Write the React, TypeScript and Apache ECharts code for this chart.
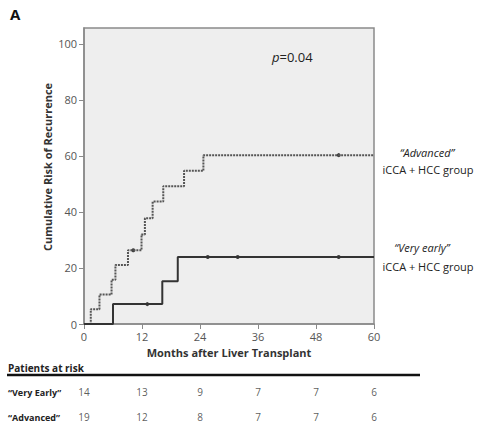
import React, { useEffect, useRef } from "react";
import * as echarts from "echarts";

// Kaplan-Meier cumulative risk (step points: time in months, risk in %)
const advancedTimes = [0, 1.4, 3.2, 5.7, 6.5, 9.1, 11.9, 12.6, 14.2, 16.4, 20.7, 24.7, 60];
const advancedRisk = [0, 5.3, 10.5, 15.8, 21.1, 26.3, 32.0, 37.8, 43.7, 49.2, 54.7, 60.3, 60.3];
const advancedCensorTimes = [10.2, 52.7];
const advancedCensorRisk = [26.3, 60.3];

const veryEarlyTimes = [0, 6.0, 16.2, 19.4, 60];
const veryEarlyRisk = [0, 7.1, 15.3, 23.9, 23.9];
const veryEarlyCensorTimes = [13.1, 25.6, 31.8, 52.7];
const veryEarlyCensorRisk = [7.1, 23.9, 23.9, 23.9];

const xTicks = [0, 12, 24, 36, 48, 60];
const yTicks = [0, 20, 40, 60, 80, 100];

const riskTimes = [0, 12, 24, 36, 48, 60];
const riskVeryEarly = [14, 13, 9, 7, 7, 6];
const riskAdvanced = [19, 12, 8, 7, 7, 6];
const riskRows = ["\u201CVery Early\u201D", "\u201CAdvanced\u201D"];

const FONT = "'Open Sans', 'Liberation Sans', sans-serif";

export default function App() {
  const ref = useRef<HTMLDivElement>(null);
  useEffect(() => {
    if (!ref.current) return;
    const chart = echarts.init(ref.current, null, { renderer: "svg" });
    const zip = (a: number[], b: number[]) => a.map((v, i) => [v, b[i]]);
    const riskData = [
      ...riskTimes.map((t, i) => [t, riskRows[0], riskVeryEarly[i]]),
      ...riskTimes.map((t, i) => [t, riskRows[1], riskAdvanced[i]]),
    ];
    chart.setOption({
      animation: false,
      backgroundColor: "#ffffff",
      textStyle: { fontFamily: FONT },
      grid: [
        {
          left: 84,
          top: 28,
          right: 108,
          bottom: 106,
          show: true,
          backgroundColor: "#eeeeee",
          borderColor: "#8a8a8a",
          borderWidth: 1.5,
        },
        { left: 84, right: 108, top: 379, height: 51 },
      ],
      xAxis: [
        {
          type: "value",
          gridIndex: 0,
          min: 0,
          max: 60,
          interval: 12,
          splitLine: { show: false },
          axisLine: { show: true, lineStyle: { color: "#8a8a8a", width: 1.5 } },
          axisTick: { show: true, length: 5, lineStyle: { color: "#8a8a8a" }, customValues: xTicks },
          axisLabel: { color: "#555", fontSize: 11, margin: 7, customValues: xTicks },
          name: "Months after Liver Transplant",
          nameLocation: "middle",
          nameGap: 23,
          nameTextStyle: { color: "#333", fontSize: 11, fontWeight: "bold", fontFamily: FONT },
        },
        { type: "value", gridIndex: 1, min: 0, max: 60, show: false },
      ],
      yAxis: [
        {
          type: "value",
          gridIndex: 0,
          min: 0,
          max: 105.7,
          splitLine: { show: false },
          axisLine: { show: true, lineStyle: { color: "#8a8a8a", width: 1.5 } },
          axisTick: { show: true, length: 5, lineStyle: { color: "#8a8a8a" }, customValues: yTicks },
          axisLabel: { color: "#555", fontSize: 11, margin: 7, customValues: yTicks },
        },
        {
          type: "category",
          gridIndex: 1,
          data: riskRows,
          inverse: true,
          show: false,
        },
      ],
      graphic: [
        { type: "text", left: 10, top: 6, style: { text: "A", font: `bold 15px ${FONT}`, fill: "#111" } },
        {
          type: "text",
          x: 47,
          y: 167,
          rotation: Math.PI / 2,
          style: {
            text: "Cumulative Risk of Recurrence",
            font: `bold 11px ${FONT}`,
            fill: "#333",
            align: "center",
            verticalAlign: "middle",
          },
        },
        {
          type: "text",
          x: 272,
          y: 57,
          style: {
            text: "{i|p}=0.04",
            rich: { i: { fontStyle: "italic", font: `italic 13px ${FONT}`, fill: "#222" } },
            font: `13px ${FONT}`,
            fill: "#222",
            verticalAlign: "middle",
          },
        },
        { type: "text", x: 427, y: 152, style: { text: "\u201CAdvanced\u201D", font: `italic 11px ${FONT}`, fill: "#222", align: "center", verticalAlign: "middle" } },
        { type: "text", x: 428, y: 169, style: { text: "iCCA + HCC group", font: `11px ${FONT}`, fill: "#222", align: "center", verticalAlign: "middle" } },
        { type: "text", x: 422, y: 247, style: { text: "\u201CVery early\u201D", font: `italic 11px ${FONT}`, fill: "#222", align: "center", verticalAlign: "middle" } },
        { type: "text", x: 428, y: 266, style: { text: "iCCA + HCC group", font: `11px ${FONT}`, fill: "#222", align: "center", verticalAlign: "middle" } },
        { type: "text", x: 8, y: 368, style: { text: "Patients at risk", font: `bold 10px ${FONT}`, fill: "#222", verticalAlign: "middle" } },
        { type: "line", shape: { x1: 7, y1: 375, x2: 420, y2: 375 }, style: { stroke: "#111", lineWidth: 2.5 } },
        { type: "text", x: 8, y: 392, style: { text: riskRows[0], font: `bold 9px ${FONT}`, fill: "#222", verticalAlign: "middle" } },
        { type: "text", x: 8, y: 417, style: { text: riskRows[1], font: `bold 9px ${FONT}`, fill: "#222", verticalAlign: "middle" } },
      ],
      series: [
        {
          type: "line",
          name: "Advanced",
          xAxisIndex: 0,
          yAxisIndex: 0,
          step: "end",
          data: zip(advancedTimes, advancedRisk),
          showSymbol: false,
          lineStyle: { color: "#555", width: 2, type: [2, 1] },
        },
        {
          type: "line",
          name: "Very early",
          xAxisIndex: 0,
          yAxisIndex: 0,
          step: "end",
          data: zip(veryEarlyTimes, veryEarlyRisk),
          showSymbol: false,
          lineStyle: { color: "#333", width: 2 },
        },
        {
          type: "scatter",
          xAxisIndex: 0,
          yAxisIndex: 0,
          data: [...zip(advancedCensorTimes, advancedCensorRisk), ...zip(veryEarlyCensorTimes, veryEarlyCensorRisk)],
          symbolSize: 4,
          itemStyle: { color: "#111" },
        },
        {
          type: "scatter",
          xAxisIndex: 1,
          yAxisIndex: 1,
          data: riskData,
          symbolSize: 0,
          label: {
            show: true,
            position: "inside",
            formatter: (p: any) => String(p.value[2]),
            color: "#333",
            fontSize: 10,
            fontFamily: FONT,
          },
        },
      ],
    });
    return () => chart.dispose();
  }, []);
  return <div ref={ref} style={{ position: "absolute", left: 0, top: 0, width: 482, height: 430 }} />;
}
